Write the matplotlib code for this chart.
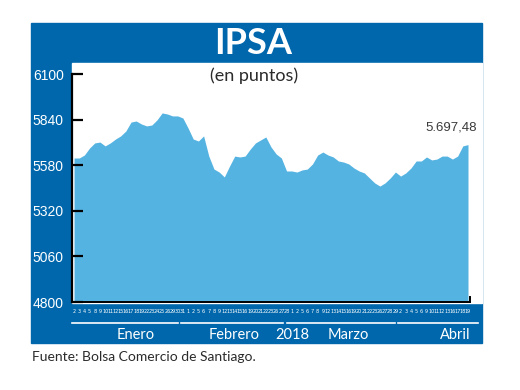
import numpy as np
import matplotlib
matplotlib.use("Agg")
import matplotlib.pyplot as plt
from matplotlib.patches import Rectangle
from matplotlib.transforms import blended_transform_factory

BLUE = "#0067ac"
FILL = "#55b3e1"
DARK = "#2b2b2b"

# trading days shown on the x axis, per month
days_ene = [2, 3, 4, 5, 8, 9, 10, 11, 12, 15, 16, 17, 18, 19, 22, 23, 24, 25, 26, 29, 30, 31]
days_feb = [1, 2, 5, 6, 7, 8, 9, 12, 13, 14, 15, 16, 19, 20, 21, 22, 23, 26, 27, 28]
days_mar = [1, 2, 5, 6, 7, 8, 9, 12, 13, 14, 15, 16, 19, 20, 21, 22, 23, 26, 27, 28, 29]
days_abr = [2, 3, 4, 5, 6, 9, 10, 11, 12, 13, 16, 17, 18, 19]

# IPSA closing values (points)
ipsa_ene = [5621, 5621, 5638, 5678, 5707, 5712, 5690, 5707, 5729, 5747, 5775,
            5826, 5832, 5815, 5804, 5809, 5838, 5878, 5872, 5861, 5861, 5849]
ipsa_feb = [5792, 5729, 5718, 5747, 5632, 5558, 5541, 5513, 5575, 5632,
            5627, 5632, 5672, 5707, 5724, 5741, 5684, 5644, 5621, 5547]
ipsa_mar = [5547, 5541, 5553, 5558, 5587, 5638, 5655, 5638, 5627, 5604, 5598,
            5587, 5564, 5547, 5536, 5507, 5479, 5461, 5479, 5507, 5541]
ipsa_abr = [5518, 5536, 5564, 5604, 5604, 5627, 5610, 5615, 5632, 5632,
            5615, 5632, 5690, 5697.48]

month_names = ["Enero", "Febrero", "Marzo", "Abril"]
year_label = "2018"
y_ticks = [4800, 5060, 5320, 5580, 5840, 6100]
last_label = "5.697,48"

days = days_ene + days_feb + days_mar + days_abr
values = np.array(ipsa_ene + ipsa_feb + ipsa_mar + ipsa_abr)
x = np.arange(len(values))

fig = plt.figure(figsize=(5.2, 3.9), dpi=100)

# blue frame and white chart area, behind the axes
fig.patches.append(Rectangle((31 / 520, 1 - 343 / 390), 451 / 520, 320 / 390,
                             transform=fig.transFigure, color=BLUE, zorder=-2))
fig.patches.append(Rectangle((72 / 520, 1 - 303 / 390), 410 / 520, 240 / 390,
                             transform=fig.transFigure, color="white", zorder=-1))

ax = fig.add_axes([72 / 520, 1 - 302 / 390, 410 / 520, 228 / 390])
ax.set_zorder(1)
ax.patch.set_visible(False)
ax.fill_between(x, 4800, values, color=FILL, lw=0)
ax.set_xlim(-0.39, 78.7)
ax.set_ylim(4800, 6100)

for s in ["top", "right"]:
    ax.spines[s].set_visible(False)
ax.spines["left"].set_linewidth(1.6)
ax.spines["bottom"].set_linewidth(1.4)
ax.spines["bottom"].set_bounds(-0.39, 76.4)
ax.plot([76.4, 76.4], [4800, 4830], color="black", lw=1.4, clip_on=False)

ax.set_yticks(y_ticks)
ax.set_yticklabels([str(v) for v in y_ticks], color="white", fontsize=10,
                   family="Liberation Sans")
ax.tick_params(axis="y", direction="in", length=8, width=1.6, pad=6)

ax.set_xticks(x)
ax.set_xticklabels([str(d) for d in days], color="white", fontsize=4.0,
                   family="DejaVu Sans", fontstretch="condensed")
ax.tick_params(axis="x", length=0, pad=5)

# month underlines and names
trans = blended_transform_factory(ax.transData, ax.transAxes)
bounds = [(-0.4, 20.1), (20.6, 40.4), (41.0, 61.9), (62.5, 78.0)]
for a, b in bounds:
    ax.plot([a, b], [-0.092, -0.092], color="white", lw=1.2,
            transform=trans, clip_on=False)
label_pos = [11.8, 30.9, 52.9, 73.5]
for name, px in zip(month_names, label_pos):
    ax.text(px, -0.145, name, transform=trans, color="white", fontsize=10.5,
            family="Lato", ha="center", va="center")
ax.text(42.1, -0.145, year_label, transform=trans, color="white", fontsize=10.5,
        family="Lato", ha="center", va="center")

ax.annotate(last_label, (x[-1], values[-1]), xytext=(6.5, 8),
            textcoords="offset points", ha="right", va="bottom",
            color="#3a3a3a", fontsize=9.5, family="Liberation Sans")

fig.text(253 / 520, 1 - 43 / 390, "IPSA", color="white", fontsize=26,
         fontweight="bold", family="Lato", ha="center", va="center")
fig.text(254 / 520, 1 - 76 / 390, "(en puntos)", color=DARK, fontsize=13,
         family="Lato", ha="center", va="center")
fig.text(32 / 520, 1 - 357 / 390, "Fuente: Bolsa Comercio de Santiago.",
         color=DARK, fontsize=10, family="Lato", ha="left", va="center")

fig.savefig("out.png", dpi=100)
